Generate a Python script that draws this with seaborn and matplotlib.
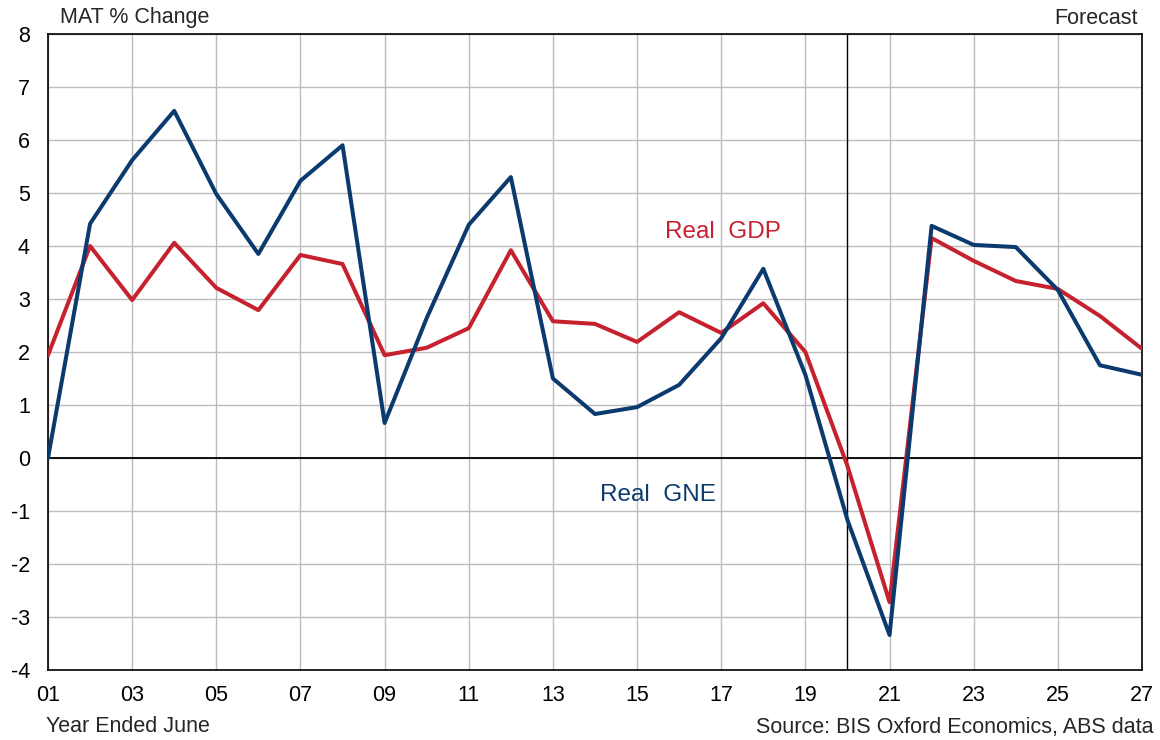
import numpy as np
import pandas as pd
import matplotlib
matplotlib.use('Agg')
import matplotlib.pyplot as plt
import seaborn as sns

# years ended June, 2001..2027
years = list(range(2001, 2028))
gne = [0.0, 4.42, 5.62, 6.55, 4.98, 3.85, 5.23, 5.9, 0.66, 2.64, 4.4, 5.3, 1.5, 0.83,
       0.96, 1.38, 2.26, 3.57, 1.57, -1.17, -3.34, 4.38, 4.02, 3.98, 3.17, 1.75, 1.57]
gdp = [1.94, 4.0, 2.98, 4.06, 3.21, 2.79, 3.83, 3.66, 1.94, 2.08, 2.45, 3.92, 2.58, 2.53,
       2.19, 2.75, 2.36, 2.92, 2.0, -0.15, -2.72, 4.15, 3.72, 3.34, 3.19, 2.68, 2.06]
tick_years = list(range(2001, 2028, 2))
tick_labels = [f"{y % 100:02d}" for y in tick_years]
y_ticks = list(range(-4, 9))

df = pd.DataFrame({'Year': years, 'Real GNE': gne, 'Real GDP': gdp})

sns.set_style('white')
plt.rcParams['font.family'] = ['Liberation Sans', 'DejaVu Sans']
plt.rcParams['axes.unicode_minus'] = False

blue = '#0b3a6e'
red = '#c5212f'

fig = plt.figure(figsize=(11.6, 7.4), dpi=100)
ax = fig.add_axes([48 / 1160, 1 - 670 / 740, (1142 - 48) / 1160, (670 - 34) / 740])

sns.lineplot(data=df, x='Year', y='Real GDP', color=red, linewidth=2.9, ax=ax, zorder=3)
sns.lineplot(data=df, x='Year', y='Real GNE', color=blue, linewidth=2.9, ax=ax, zorder=4)

ax.set_xlim(2001, 2027)
ax.set_ylim(-4, 8)
ax.set_xticks(tick_years)
ax.set_xticklabels(tick_labels)
ax.set_yticks(y_ticks)
ax.grid(True, color='#bcbcbc', linewidth=1.0)
ax.set_axisbelow(True)
ax.axhline(0, color='black', linewidth=1.3, zorder=2)
ax.axvline(2020, color='black', linewidth=1.0, zorder=2)
for s in ax.spines.values():
    s.set_color('black')
    s.set_linewidth(1.2)
ax.tick_params(axis='both', length=0, labelsize=15.5, colors='black')
ax.tick_params(axis='x', pad=11)
ax.tick_params(axis='y', pad=13)
ax.set_xlabel('')
ax.set_ylabel('')

fig.text(60 / 1160, 1 - 18 / 740, 'MAT % Change', fontsize=15.5, va='center', ha='left')
fig.text(1138 / 1160, 1 - 19 / 740, 'Forecast', fontsize=15.5, va='center', ha='right')
fig.text(46 / 1160, 1 - 727 / 740, 'Year Ended June', fontsize=15.5, va='center', ha='left')
fig.text(1153 / 1160, 1 - 727 / 740, 'Source: BIS Oxford Economics, ABS data', fontsize=15.5,
         va='center', ha='right')
ax.text(2017.05, 4.26, 'Real  GDP', color=red, fontsize=17.5, ha='center', va='center')
ax.text(2015.5, -0.7, 'Real  GNE', color=blue, fontsize=17.5, ha='center', va='center')

fig.savefig('out.png', dpi=100)
